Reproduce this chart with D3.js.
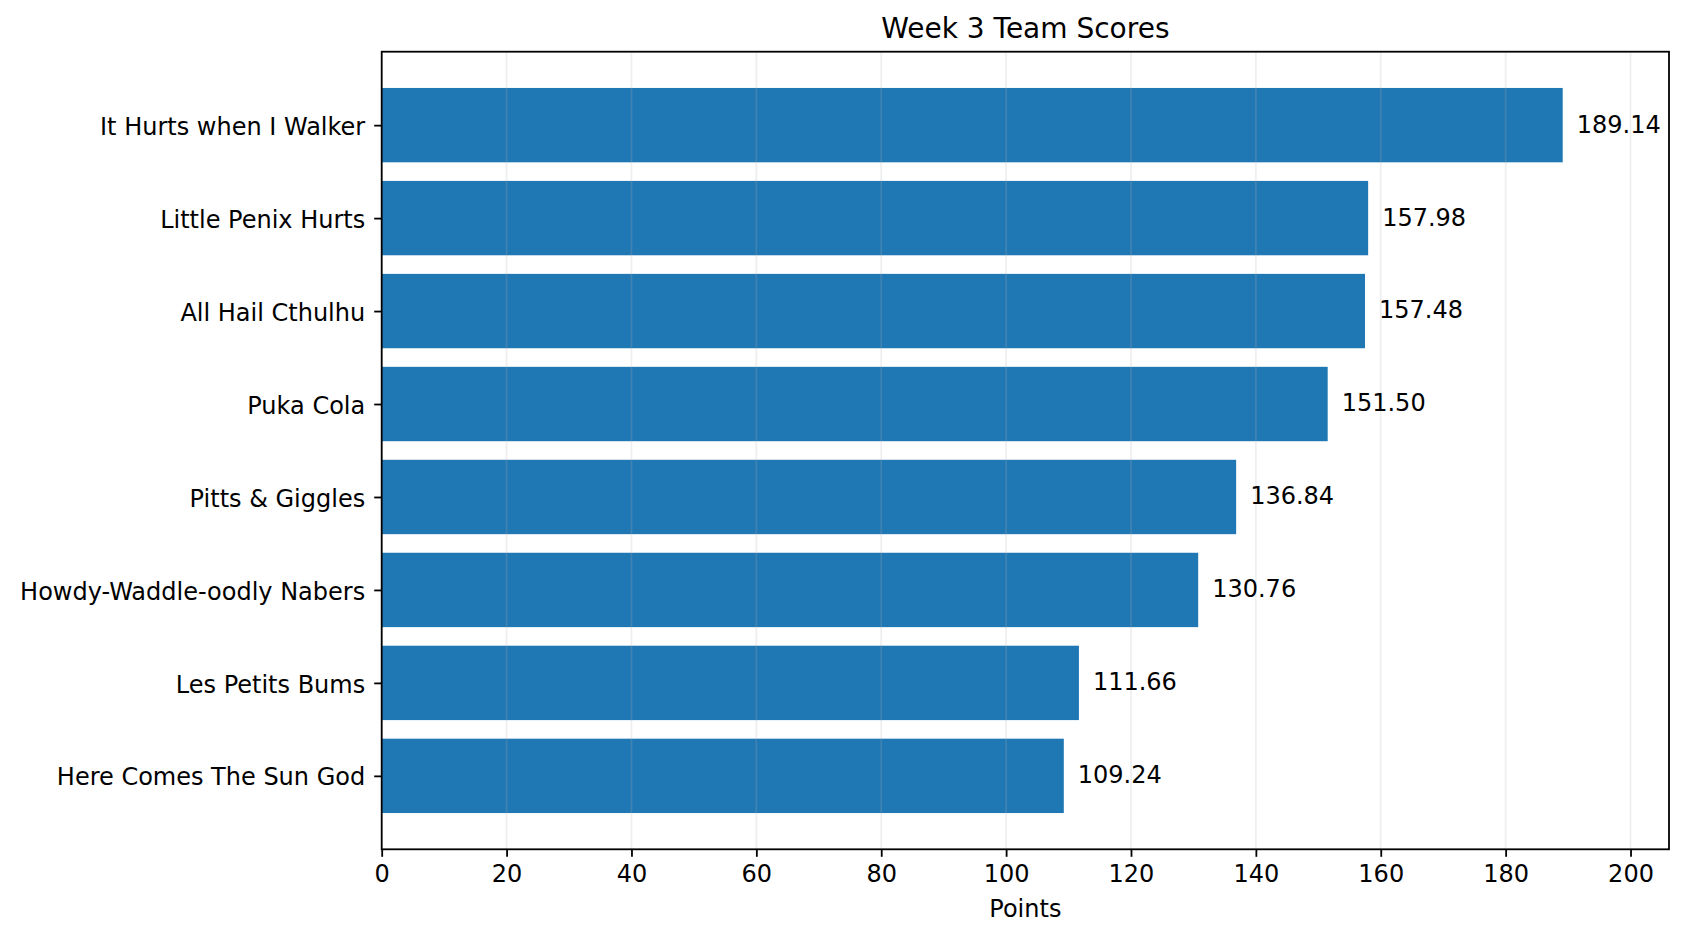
<!DOCTYPE html>
<html>
<head>
<meta charset="utf-8">
<script src="https://cdn.jsdelivr.net/npm/d3@7"></script>
<style>
  html, body { margin: 0; padding: 0; background: #fff; }
  svg text { font-family: "DejaVu Sans", sans-serif; fill: #000; }
</style>
</head>
<body>
<svg id="chart" width="1685" height="940"></svg>
<script>
const teams = [
  "It Hurts when I Walker",
  "Little Penix Hurts",
  "All Hail Cthulhu",
  "Puka Cola",
  "Pitts & Giggles",
  "Howdy-Waddle-oodly Nabers",
  "Les Petits Bums",
  "Here Comes The Sun God"
];
const scores = [189.14, 157.98, 157.48, 151.50, 136.84, 130.76, 111.66, 109.24];
const xTicks = [0, 20, 40, 60, 80, 100, 120, 140, 160, 180, 200];
const title = "Week 3 Team Scores";
const xLabel = "Points";

const svg = d3.select("#chart");
const margin = { left: 381.7, top: 51.7, right: 1685 - 1669, bottom: 940 - 849.3 };
const W = 1685 - margin.left - margin.right;
const H = 940 - margin.top - margin.bottom;
const g = svg.append("g").attr("transform", `translate(${margin.left},${margin.top})`);

const xMax = d3.max(scores) * 1.09;
const x = d3.scaleLinear().domain([0, xMax]).range([0, W]);
const n = teams.length;
const y = d3.scaleLinear().domain([-0.79, n - 1 + 0.79]).range([0, H]);
const barH = y(0.8) - y(0);

const data = teams.map((t, i) => ({ team: t, score: scores[i], i }));

g.selectAll("rect.bar").data(data).enter().append("rect")
  .attr("class", "bar")
  .attr("x", x(0))
  .attr("y", d => y(d.i) - barH / 2)
  .attr("width", d => x(d.score) - x(0))
  .attr("height", barH)
  .attr("fill", "#1f77b4");

g.selectAll("line.grid").data(xTicks).enter().append("line")
  .attr("class", "grid")
  .attr("x1", d => x(d)).attr("x2", d => x(d))
  .attr("y1", 0).attr("y2", H)
  .attr("stroke", "#b0b0b0").attr("stroke-opacity", 0.22).attr("stroke-width", 1.7);

g.selectAll("text.val").data(data).enter().append("text")
  .attr("class", "val")
  .attr("x", d => x(d.score) + 14)
  .attr("y", d => y(d.i))
  .attr("dy", "0.31em")
  .attr("font-size", 24)
  .text(d => d.score.toFixed(2));

const xAxis = d3.axisBottom(x).tickValues(xTicks).tickSize(7.5).tickPadding(8).tickFormat(d3.format("d"));
const xg = g.append("g").attr("transform", `translate(0,${H})`).call(xAxis);
xg.select(".domain").remove();
xg.selectAll(".tick line").attr("stroke", "#000").attr("stroke-width", 1.8);
xg.selectAll(".tick text").attr("font-size", 24).attr("fill", "#000")
  .attr("font-family", "DejaVu Sans").attr("dy", "0.71em");

const yAxis = d3.axisLeft(y).tickValues(d3.range(n)).tickSize(7.5).tickPadding(9).tickFormat(i => teams[i]);
const yg = g.append("g").call(yAxis);
yg.select(".domain").remove();
yg.selectAll(".tick line").attr("stroke", "#000").attr("stroke-width", 1.8);
yg.selectAll(".tick text").attr("font-size", 24).attr("fill", "#000")
  .attr("font-family", "DejaVu Sans").attr("dy", "0.38em");

g.append("rect").attr("x", 0).attr("y", 0).attr("width", W).attr("height", H)
  .attr("fill", "none").attr("stroke", "#000").attr("stroke-width", 1.8);

svg.append("text")
  .attr("x", margin.left + W / 2).attr("y", 37.7)
  .attr("text-anchor", "middle").attr("font-size", 28)
  .text(title);

svg.append("text")
  .attr("x", margin.left + W / 2).attr("y", 917)
  .attr("text-anchor", "middle").attr("font-size", 24)
  .text(xLabel);
</script>
</body>
</html>
